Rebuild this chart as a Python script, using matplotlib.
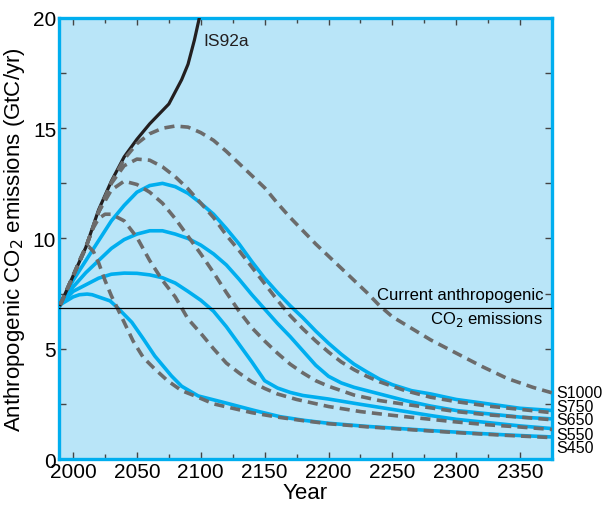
import numpy as np
import matplotlib
matplotlib.use("Agg")
import matplotlib.pyplot as plt
from matplotlib.ticker import MultipleLocator

plt.rcParams['font.family'] = ['Liberation Sans', 'DejaVu Sans']

# IS92a reference scenario
is92a_years = [1990, 2000, 2010, 2020, 2030, 2040, 2050, 2060, 2070, 2075, 2085, 2090, 2095, 2100]
is92a_vals = [7.0, 8.3, 9.6, 11.3, 12.6, 13.7, 14.5, 15.2, 15.8, 16.1, 17.2, 17.9, 19.0, 20.3]

# S profiles (dashed)
s450_years = [1990, 2000, 2005, 2009, 2012, 2016, 2020, 2025, 2030, 2035, 2040, 2047, 2055, 2064, 2074, 2085, 2095,
              2110, 2125, 2140, 2160, 2180, 2200, 2230, 2256, 2280, 2308, 2340, 2375]
s450_vals = [7.0, 8.3, 9.0, 9.5, 9.65, 9.4, 8.9, 8.1, 7.4, 6.8, 6.2, 5.35, 4.6, 4.08, 3.55, 3.1, 2.87,
             2.5, 2.3, 2.1, 1.9, 1.74, 1.6, 1.46, 1.36, 1.27, 1.17, 1.07, 0.97]

s550_years = [1990, 2000, 2010, 2015, 2020, 2025, 2030, 2040, 2050, 2060, 2070, 2080, 2090, 2100, 2110, 2120,
              2130, 2140, 2150, 2160, 2175, 2200, 2225, 2250, 2280, 2300, 2325, 2350, 2375]
s550_vals = [7.0, 8.3, 9.6, 10.4, 10.9, 11.1, 11.1, 10.8, 10.05, 9.0, 8.1, 7.35, 6.35, 5.7, 5.0, 4.35,
             3.9, 3.5, 3.2, 2.95, 2.7, 2.38, 2.15, 1.98, 1.8, 1.68, 1.55, 1.45, 1.34]

s650_years = [1990, 2000, 2010, 2020, 2030, 2040, 2050, 2060, 2070, 2080, 2090, 2100, 2110, 2120, 2130, 2140,
              2150, 2160, 2170, 2180, 2190, 2200, 2220, 2240, 2260, 2280, 2300, 2325, 2350, 2375]
s650_vals = [7.0, 8.3, 9.6, 11.2, 12.2, 12.6, 12.45, 12.1, 11.6, 10.9, 10.1, 9.3, 8.45, 7.55, 6.7, 5.95,
             5.35, 4.8, 4.3, 3.9, 3.55, 3.3, 2.9, 2.65, 2.48, 2.32, 2.15, 2.0, 1.9, 1.78]

s750_years = [1990, 2000, 2010, 2020, 2030, 2040, 2050, 2060, 2070, 2080, 2090, 2100, 2110, 2120, 2130, 2140,
              2150, 2160, 2170, 2180, 2190, 2200, 2210, 2220, 2230, 2240, 2250, 2260, 2280, 2300, 2325, 2350, 2375]
s750_vals = [7.0, 8.3, 9.6, 11.2, 12.5, 13.3, 13.6, 13.55, 13.25, 12.8, 12.25, 11.6, 10.95, 10.15, 9.45, 8.7,
             7.95, 7.2, 6.5, 5.9, 5.35, 4.85, 4.4, 4.05, 3.75, 3.5, 3.3, 3.1, 2.8, 2.6, 2.4, 2.25, 2.1]

s1000_years = [1990, 2000, 2010, 2020, 2030, 2040, 2050, 2060, 2070, 2080, 2090, 2100, 2110, 2120, 2130, 2140,
               2150, 2160, 2170, 2180, 2190, 2200, 2210, 2220, 2230, 2240, 2250, 2260, 2270, 2280, 2290, 2300,
               2320, 2340, 2360, 2375]
s1000_vals = [7.0, 8.3, 9.6, 11.2, 12.55, 13.6, 14.3, 14.75, 15.0, 15.1, 15.05, 14.8, 14.45, 13.95, 13.4, 12.85,
              12.3, 11.6, 10.95, 10.35, 9.75, 9.2, 8.65, 8.1, 7.55, 6.95, 6.45, 6.1, 5.75, 5.4, 5.1, 4.8,
              4.2, 3.65, 3.25, 3.0]

# WRE profiles (solid blue)
w450_years = [1990, 2000, 2005, 2011, 2015, 2020, 2029, 2035, 2046, 2055, 2064, 2077, 2085, 2098, 2117, 2142,
              2162, 2180, 2200, 2230, 2256, 2280, 2308, 2340, 2375]
w450_vals = [7.0, 7.35, 7.45, 7.48, 7.45, 7.35, 7.17, 6.85, 6.2, 5.45, 4.67, 3.77, 3.3, 2.86, 2.58, 2.2,
             1.92, 1.76, 1.62, 1.48, 1.38, 1.29, 1.19, 1.09, 1.0]

w550_years = [1990, 2000, 2010, 2020, 2030, 2040, 2050, 2060, 2070, 2080, 2090, 2100, 2110, 2120, 2130, 2140,
              2150, 2160, 2170, 2180, 2200, 2225, 2250, 2280, 2300, 2325, 2350, 2375]
w550_vals = [7.0, 7.6, 7.9, 8.2, 8.38, 8.43, 8.42, 8.35, 8.22, 7.98, 7.6, 7.2, 6.7, 6.0, 5.2, 4.4,
             3.55, 3.22, 3.02, 2.88, 2.72, 2.48, 2.25, 1.97, 1.8, 1.65, 1.5, 1.38]

w650_years = [1990, 2000, 2010, 2020, 2030, 2040, 2050, 2060, 2070, 2080, 2090, 2100, 2110, 2120, 2130, 2140,
              2150, 2160, 2170, 2180, 2190, 2200, 2210, 2220, 2240, 2260, 2280, 2300, 2325, 2350, 2375]
w650_vals = [7.0, 7.8, 8.45, 9.0, 9.55, 9.95, 10.2, 10.35, 10.35, 10.2, 10.0, 9.7, 9.3, 8.8, 8.15, 7.45,
             6.8, 6.15, 5.55, 4.9, 4.25, 3.75, 3.45, 3.25, 2.95, 2.65, 2.4, 2.2, 2.05, 1.9, 1.82]

w750_years = [1990, 2000, 2010, 2020, 2030, 2040, 2050, 2060, 2070, 2080, 2090, 2100, 2110, 2120, 2130, 2140,
              2150, 2160, 2170, 2180, 2190, 2200, 2210, 2220, 2230, 2240, 2250, 2265, 2280, 2300, 2325, 2350, 2375]
w750_vals = [7.0, 8.1, 9.0, 9.9, 10.8, 11.5, 12.1, 12.4, 12.5, 12.35, 12.05, 11.6, 11.1, 10.45, 9.75, 8.95,
             8.2, 7.55, 6.95, 6.4, 5.8, 5.25, 4.75, 4.3, 3.95, 3.62, 3.37, 3.1, 2.95, 2.7, 2.5, 2.3, 2.2]

current_emissions = 6.85
label_names = ['S1000', 'S750', 'S650', 'S550', 'S450']
label_vals = [3.0, 2.4, 1.77, 1.13, 0.5]

BLUE = '#00aeef'
GREY = '#6b6b6b'
BG = '#b9e5f8'

fig = plt.figure(figsize=(6.04, 5.06), dpi=100)
ax = fig.add_axes([0.0977, 0.0909, 0.8163, 0.8716])
ax.set_facecolor(BG)

for yrs, vals in [(w450_years, w450_vals), (w550_years, w550_vals),
                  (w650_years, w650_vals), (w750_years, w750_vals)]:
    ax.plot(yrs, vals, color=BLUE, lw=2.6, solid_joinstyle='round', zorder=2)

ax.plot(is92a_years, is92a_vals, color='#231f20', lw=2.3, solid_joinstyle='round', zorder=3)

for yrs, vals in [(s450_years, s450_vals), (s550_years, s550_vals), (s650_years, s650_vals),
                  (s750_years, s750_vals), (s1000_years, s1000_vals)]:
    ax.plot(yrs, vals, color=GREY, lw=2.6, dashes=(2.8, 1.7), zorder=4)

ax.axhline(current_emissions, color='black', lw=0.9, zorder=5)

ax.set_xlim(1989, 2375)
ax.set_ylim(0, 20)

ax.xaxis.set_major_locator(MultipleLocator(50))
ax.xaxis.set_minor_locator(MultipleLocator(25))
ax.yaxis.set_major_locator(MultipleLocator(5))
ax.yaxis.set_minor_locator(MultipleLocator(2.5))
ax.tick_params(which='both', direction='in', top=True, right=True, color='#444444', labelsize=15, pad=2)
ax.tick_params(which='major', length=5, width=1)
ax.tick_params(which='minor', length=3.5, width=1)
ax.tick_params(axis='y', which='minor', length=5)

for s in ax.spines.values():
    s.set_color(BLUE)
    s.set_linewidth(2.4)

ax.set_xlabel('Year', fontsize=16, labelpad=1)
ax.set_ylabel('Anthropogenic CO$_2$ emissions (GtC/yr)', fontsize=16, labelpad=4)

ax.text(2102, 19.0, 'IS92a', fontsize=12.5, ha='left', va='center', color='#231f20')
ax.text(2368, 7.45, 'Current anthropogenic', fontsize=12, ha='right', va='center')
ax.text(2368, 6.35, 'CO$_2$ emissions', fontsize=12, ha='right', va='center')

for name, v in zip(label_names, label_vals):
    ax.text(2378, v, name, fontsize=11.5, ha='left', va='center', clip_on=False)

fig.savefig('out.png', dpi=100)
